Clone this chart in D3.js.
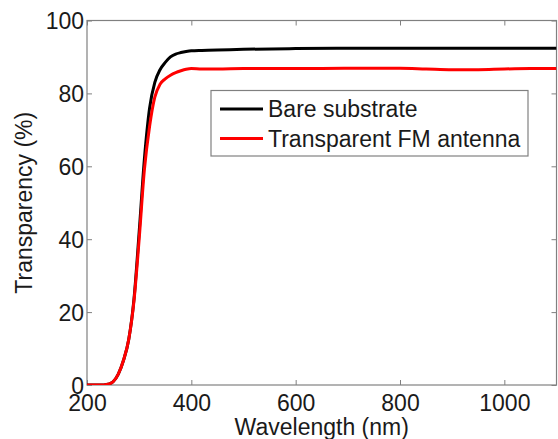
<!DOCTYPE html>
<html>
<head>
<meta charset="utf-8">
<script src="https://cdn.jsdelivr.net/npm/d3@7"></script>
<style>
  html, body { margin: 0; padding: 0; background: #fff; }
  svg { display: block; }
  text { font-family: "Liberation Sans", Arial, Helvetica, sans-serif; fill: #1a1a1a; }
</style>
</head>
<body>
<script>
// ---- Data ----
const wavelength = [200, 220, 230, 235, 240, 250, 260, 270, 280, 290, 300, 310, 320, 330, 340, 350, 360, 370, 380, 390, 400, 420, 450, 500, 600, 700, 800, 850, 900, 950, 1000, 1050, 1100];
const bareSubstrate = [0, 0, 0, 0.05, 0.2, 0.9, 3.0, 6.8, 12.5, 23.5, 42, 62, 76, 83, 86.5, 88.5, 90, 90.8, 91.2, 91.5, 91.7, 91.8, 91.9, 92.1, 92.3, 92.4, 92.4, 92.4, 92.4, 92.4, 92.4, 92.4, 92.4];
const fmAntenna = [0, 0, 0, 0.05, 0.2, 0.9, 3.0, 6.8, 12.5, 23, 40, 59, 71, 79, 82.5, 84, 85, 85.7, 86.2, 86.6, 86.8, 86.7, 86.7, 86.8, 86.8, 86.9, 86.9, 86.7, 86.5, 86.5, 86.7, 86.8, 86.8];
const seriesNames = ["Bare substrate", "Transparent FM antenna"];
const seriesColors = ["#000000", "#ff0000"];
const xTicks = [200, 400, 600, 800, 1000];
const yTicks = [0, 20, 40, 60, 80, 100];
const xLabel = "Wavelength (nm)";
const yLabel = "Transparency (%)";

// ---- Layout ----
const W = 558, H = 439;
const plot = { left: 87, top: 20.5, right: 556.5, bottom: 385 };
const axisColor = "#808080";
const fontSize = 23;

const svg = d3.select("body").append("svg").attr("width", W).attr("height", H);

const x = d3.scaleLinear().domain([200, 1100]).range([plot.left, plot.right]);
const y = d3.scaleLinear().domain([0, 100]).range([plot.bottom, plot.top]);

svg.append("defs").append("clipPath").attr("id", "clip")
  .append("rect").attr("x", plot.left).attr("y", plot.top)
  .attr("width", plot.right - plot.left).attr("height", plot.bottom - plot.top);

const tickLen = 5;
const gBottom = svg.append("g").attr("transform", `translate(0,${plot.bottom})`)
  .call(d3.axisBottom(x).tickValues(xTicks).tickSize(-tickLen).tickPadding(10).tickFormat(d3.format("d")));
const gTop = svg.append("g").attr("transform", `translate(0,${plot.top})`)
  .call(d3.axisTop(x).tickValues(xTicks).tickSize(-tickLen).tickFormat(""));
const gLeft = svg.append("g").attr("transform", `translate(${plot.left},0)`)
  .call(d3.axisLeft(y).tickValues(yTicks).tickSize(-tickLen).tickPadding(3).tickFormat(d3.format("d")));
const gRight = svg.append("g").attr("transform", `translate(${plot.right},0)`)
  .call(d3.axisRight(y).tickValues(yTicks).tickSize(-tickLen).tickFormat(""));

[gBottom, gTop, gLeft, gRight].forEach(g => {
  g.select(".domain").remove();
  g.selectAll(".tick line").attr("stroke", axisColor).attr("stroke-width", 1);
  g.selectAll(".tick text").attr("font-size", fontSize).attr("fill", "#1a1a1a")
    .style("font-family", '"Liberation Sans", Arial, sans-serif');
});
gBottom.selectAll(".tick text").attr("dy", "0.71em");
gLeft.selectAll(".tick text").attr("dy", "0.35em");

svg.append("rect")
  .attr("x", plot.left).attr("y", plot.top)
  .attr("width", plot.right - plot.left).attr("height", plot.bottom - plot.top)
  .attr("fill", "none").attr("stroke", axisColor).attr("stroke-width", 1.2);

const series = [bareSubstrate, fmAntenna];
const line = d3.line().x((d, i) => x(wavelength[i])).y(d => y(d)).curve(d3.curveMonotoneX);
const gLines = svg.append("g").attr("clip-path", "url(#clip)");
series.forEach((vals, k) => {
  gLines.append("path").datum(vals)
    .attr("d", line)
    .attr("fill", "none")
    .attr("stroke", seriesColors[k])
    .attr("stroke-width", 3)
    .attr("stroke-linejoin", "round");
});

svg.append("text")
  .attr("x", (plot.left + plot.right) / 2).attr("y", 435)
  .attr("text-anchor", "middle").attr("font-size", fontSize)
  .text(xLabel);
svg.append("text")
  .attr("transform", `translate(32,${(plot.top + plot.bottom) / 2}) rotate(-90)`)
  .attr("text-anchor", "middle").attr("font-size", fontSize)
  .text(yLabel);

const lg = svg.append("g");
lg.append("rect").attr("x", 211).attr("y", 90.5).attr("width", 317).attr("height", 65.5)
  .attr("fill", "#fff").attr("stroke", axisColor).attr("stroke-width", 1.2);
const rowsY = [109, 138.5];
seriesNames.forEach((name, k) => {
  lg.append("line").attr("x1", 220).attr("x2", 263).attr("y1", rowsY[k]).attr("y2", rowsY[k])
    .attr("stroke", seriesColors[k]).attr("stroke-width", 3);
  lg.append("text").attr("x", 268).attr("y", rowsY[k]).attr("dy", "0.36em")
    .attr("font-size", fontSize).text(name);
});
</script>
</body>
</html>
